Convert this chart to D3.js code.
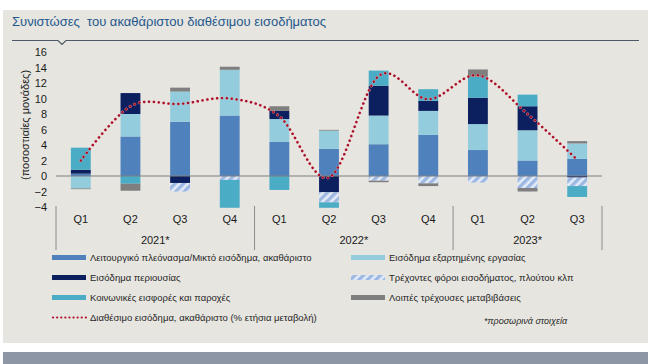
<!DOCTYPE html>
<html><head><meta charset="utf-8">
<script src="https://cdn.jsdelivr.net/npm/d3@7"></script>
<style>
html,body{margin:0;padding:0;background:#fff;}
svg{display:block;font-family:"Liberation Sans",Arial,sans-serif;}
</style></head>
<body>
<svg id="c" width="655" height="364"></svg>
<script>
const quarters = ["Q1","Q2","Q3","Q4","Q1","Q2","Q3","Q4","Q1","Q2","Q3"];
const years = ["2021*","2022*","2023*"];
const yearSpans = [4,4,3];
const yTicks = [-4,-2,0,2,4,6,8,10,12,14,16];

const operatingSurplus = [0.3, 5.1, 7.0, 7.8, 4.4, 3.5, 4.1, 5.3, 3.35, 2.0, 2.2];
const compensation     = [-1.6, 2.9, 3.9, 5.9, 2.95, 2.35, 3.7, 3.1, 3.35, 3.9, 2.0];
const propertyIncome   = [0.5, 2.7, -0.9, 0, 1.05, -2.1, 3.85, 1.3, 3.4, 3.1, -0.2];
const currentTaxes     = [0, 0, -1.1, -0.5, 0, -1.3, -0.6, -0.95, -0.85, -1.55, -1.1];
const socialBenefits   = [2.85, -1.0, 0, -3.6, -1.8, -0.7, 1.95, 1.5, 2.7, 1.5, -1.4];
const otherTransfers   = [-0.1, -0.9, 0.5, 0.4, 0.6, 0.1, -0.2, -0.35, 0.95, -0.45, 0.3];
const disposableIncome = [2.0, 9.0, 9.3, 10.0, 7.7, -0.2, 12.9, 9.9, 13.0, 8.0, 2.1];

const seriesNames = [
  "Λειτουργικό πλεόνασμα/Μικτό εισόδημα, ακαθάριστο",
  "Εισόδημα εξαρτημένης εργασίας",
  "Εισόδημα περιουσίας",
  "Τρέχοντες φόροι εισοδήματος, πλούτου κλπ",
  "Κοινωνικές εισφορές και παροχές",
  "Λοιπές τρέχουσες μεταβιβάσεις"
];
const lineName = "Διαθέσιμο εισόδημα, ακαθάριστο (% ετήσια μεταβολή)";
const seriesData = [operatingSurplus, compensation, propertyIncome, currentTaxes, socialBenefits, otherTransfers];
const colors = ["#4f81bd", "#93cddd", "#0c1f5f", "url(#hatch)", "#4bacc6", "#7f7f7f"];

const svg = d3.select("#c");
const defs = svg.append("defs");
const pat = defs.append("pattern").attr("id","hatch").attr("patternUnits","userSpaceOnUse")
  .attr("width",6).attr("height",6).attr("patternTransform","rotate(45)");
pat.append("rect").attr("width",6).attr("height",6).attr("fill","#e4ecf7");
pat.append("rect").attr("width",3.4).attr("height",6).attr("fill","#9db8e3");

// panel
svg.append("rect").attr("x",3).attr("y",10).attr("width",645).attr("height",333).attr("fill","#e6e5e0");
svg.append("rect").attr("x",3).attr("y",352).attr("width",645).attr("height",12).attr("fill","#8d96a4");
svg.append("text").attr("x",12).attr("y",26).attr("font-size",13).attr("fill","#24578c")
  .attr("xml:space","preserve").text("Συνιστώσες  του ακαθάριστου διαθέσιμου εισοδήματος");
svg.append("path").attr("d","M12,40.5 L58,40.5 L62,44.5 L66,40.5 L639,40.5")
  .attr("fill","none").attr("stroke","#4e5a68").attr("stroke-width",1.2);

const x = d3.scaleBand().domain(d3.range(quarters.length)).range([56,602]).paddingInner(0.6).paddingOuter(0.3);
const y = d3.scaleLinear().domain([-4,16]).range([207,52]);

const table = quarters.map((q,i)=>{const o={i}; seriesData.forEach((s,k)=>o["s"+k]=s[i]); return o;});
const stack = d3.stack().keys(seriesData.map((s,k)=>"s"+k)).offset(d3.stackOffsetDiverging);
const layers = stack(table);

// y axis
const yAxis = svg.append("g").attr("transform","translate(47,0)")
  .call(d3.axisLeft(y).tickValues(yTicks).tickSize(0).tickPadding(0).tickFormat(d3.format("d")));
yAxis.select(".domain").remove();
yAxis.selectAll("text").attr("font-size",11).attr("fill","#1a1a1a").attr("font-family","Liberation Sans, Arial, sans-serif");

svg.append("text").attr("transform","translate(29,125) rotate(-90)").attr("text-anchor","middle")
  .attr("font-size",11).attr("fill","#1a1a1a").text("(ποσοστιαίες μονάδες)");

// bars
layers.forEach((layer,k)=>{
  svg.append("g").selectAll("rect").data(layer).join("rect")
    .attr("x",d=>x(d.data.i)).attr("width",x.bandwidth())
    .attr("y",d=>y(Math.max(d[0],d[1]))).attr("height",d=>Math.abs(y(d[0])-y(d[1])))
    .attr("fill",colors[k]);
});

// zero line
svg.append("line").attr("x1",56).attr("x2",602).attr("y1",y(0)).attr("y2",y(0))
  .attr("stroke","#7f7f7f").attr("stroke-width",1);

// x axis labels
svg.append("g").selectAll("text").data(quarters).join("text")
  .attr("x",(d,i)=>x(i)+x.bandwidth()/2).attr("y",223).attr("text-anchor","middle")
  .attr("font-size",11).attr("fill","#1a1a1a").text(d=>d);
let acc=0; const bounds=[0];
yearSpans.forEach(s=>{acc+=s; bounds.push(acc);});
const step = x.step();
const xb = i => 56 + i*step;
svg.append("g").selectAll("line").data(bounds).join("line")
  .attr("x1",d=>xb(d)).attr("x2",d=>xb(d)).attr("y1",206).attr("y2",250)
  .attr("stroke","#8c8c8c").attr("stroke-width",1);
svg.append("g").selectAll("text").data(years).join("text")
  .attr("x",(d,i)=>(xb(bounds[i])+xb(bounds[i+1]))/2).attr("y",244).attr("text-anchor","middle")
  .attr("font-size",11).attr("fill","#1a1a1a").text(d=>d);

// line
const line = d3.line().x((d,i)=>x(i)+x.bandwidth()/2).y(d=>y(d)).curve(d3.curveCardinal.tension(0));
svg.append("path").datum(disposableIncome).attr("d",line).attr("fill","none")
  .attr("stroke","#f4a0a8").attr("stroke-width",3).attr("stroke-dasharray","0.1 4.8").attr("stroke-linecap","round");
svg.append("path").datum(disposableIncome).attr("d",line).attr("fill","none")
  .attr("stroke","#9e1028").attr("stroke-width",2.4).attr("stroke-dasharray","0.1 4.8").attr("stroke-linecap","round");

// legend
const legX = [52, 351];
const legY = [258, 278, 298, 318];
seriesNames.forEach((n,k)=>{
  const cx = legX[k%2], cy = legY[Math.floor(k/2)];
  svg.append("rect").attr("x",cx).attr("y",cy-3).attr("width",34).attr("height",5).attr("fill",colors[k]);
  svg.append("text").attr("x",cx+38).attr("y",cy+3).attr("font-size",9.5).attr("fill","#262626").text(n);
});
svg.append("line").attr("x1",53).attr("x2",86).attr("y1",legY[3]-0.5).attr("y2",legY[3]-0.5)
  .attr("stroke","#b01028").attr("stroke-width",2.2).attr("stroke-dasharray","0.1 4").attr("stroke-linecap","round");
svg.append("text").attr("x",90).attr("y",legY[3]+3).attr("font-size",9.5).attr("fill","#262626").text(lineName);
svg.append("text").attr("x",484).attr("y",324).attr("font-size",9).attr("font-style","italic").attr("fill","#262626").text("*προσωρινά στοιχεία");
</script>
</body></html>
